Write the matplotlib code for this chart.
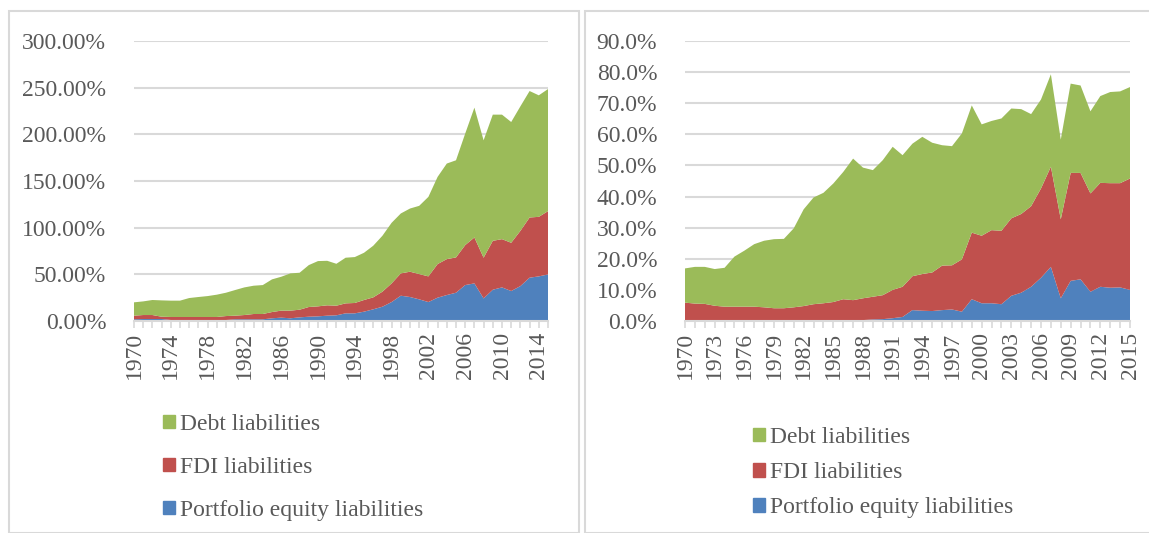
import matplotlib.pyplot as plt
from matplotlib.patches import Patch, Rectangle
from matplotlib.ticker import FuncFormatter, MultipleLocator
import numpy as np

years = list(range(1970, 2016))

# left panel: stacked tops (percent)
left_total = [20.0, 21.0, 22.5, 22.1, 21.8, 21.8, 24.6, 25.7, 26.7, 28.2,
              30.3, 33.2, 36.0, 37.8, 38.5, 44.6, 47.4, 51.0, 51.7, 59.9,
              64.2, 64.5, 61.3, 67.8, 68.5, 73.1, 80.6, 91.3, 105.2, 115.2,
              120.5, 123.4, 133.0, 154.4, 168.7, 172.2, 200.8, 228.6, 193.6, 221.1,
              221.1, 213.2, 230.0, 246.4, 241.8, 248.5]
left_fdi_top = [5.7, 6.4, 6.4, 4.6, 4.3, 4.3, 4.3, 4.3, 4.3, 4.3,
                5.3, 5.7, 6.4, 7.5, 7.5, 9.6, 11.1, 11.1, 12.1, 15.0,
                15.7, 16.8, 16.4, 18.9, 19.3, 22.5, 25.3, 31.4, 40.3, 51.0,
                52.8, 50.3, 47.8, 61.0, 66.3, 68.1, 81.3, 89.5, 67.8, 85.9,
                87.7, 83.8, 96.6, 110.9, 111.6, 117.7]
left_portfolio = [1.8, 2.1, 2.1, 2.1, 1.1, 1.1, 1.1, 1.1, 1.1, 1.1,
                  1.1, 1.8, 1.8, 1.8, 1.8, 2.9, 3.6, 2.9, 3.9, 4.6,
                  5.0, 5.7, 6.1, 8.2, 8.2, 10.0, 12.5, 15.3, 20.3, 27.1,
                  25.7, 23.2, 20.3, 25.0, 27.8, 30.3, 38.5, 40.3, 24.2, 33.5,
                  36.0, 32.1, 37.4, 46.4, 47.8, 49.9]

# right panel
right_total = [16.9, 17.4, 17.4, 16.7, 17.1, 20.7, 22.6, 24.7, 25.8, 26.3,
               26.4, 29.8, 35.9, 39.7, 41.2, 44.2, 47.9, 52.2, 49.3, 48.5,
               51.7, 56.0, 53.3, 57.0, 59.2, 57.3, 56.5, 56.2, 60.3, 69.3,
               63.2, 64.3, 65.1, 68.3, 68.1, 66.5, 71.2, 79.3, 58.3, 76.3,
               75.7, 67.4, 72.3, 73.6, 73.8, 75.2]
right_fdi_top = [5.9, 5.6, 5.5, 4.9, 4.6, 4.6, 4.6, 4.6, 4.4, 4.1,
                 4.1, 4.4, 4.8, 5.4, 5.7, 6.1, 7.0, 6.7, 7.3, 7.8,
                 8.3, 10.0, 11.0, 14.4, 15.1, 15.6, 17.8, 17.9, 19.8, 28.4,
                 27.4, 29.2, 29.0, 33.0, 34.4, 36.9, 42.6, 49.6, 32.7, 47.6,
                 47.6, 41.0, 44.4, 44.3, 44.3, 45.8]
right_portfolio = [0.0, 0.0, 0.0, 0.0, 0.0, 0.0, 0.0, 0.0, 0.0, 0.0,
                   0.0, 0.0, 0.0, 0.0, 0.1, 0.2, 0.3, 0.3, 0.3, 0.5,
                   0.6, 0.9, 1.3, 3.5, 3.3, 3.2, 3.5, 3.7, 3.0, 7.0,
                   5.7, 5.7, 5.4, 8.1, 9.1, 11.0, 13.9, 17.4, 7.3, 12.9,
                   13.4, 9.4, 11.0, 10.7, 10.8, 10.0]

labels = ['Debt liabilities', 'FDI liabilities', 'Portfolio equity liabilities']
colors = {'Portfolio': '#4F81BD', 'FDI': '#C0504D', 'Debt': '#9BBB59'}
txt = '#595959'

plt.rcParams['font.family'] = ['Liberation Serif', 'DejaVu Serif']
plt.rcParams['font.size'] = 17

fig = plt.figure(figsize=(11.49, 5.33), dpi=100)
W, H = 1149, 533

# panel frames
fig.patches.append(Rectangle((9 / W, 0), 570 / W, 1 - 11 / H, transform=fig.transFigure,
                             fill=False, edgecolor='#D9D9D9', lw=1.5))
fig.patches.append(Rectangle((585 / W, 0), 600 / W, 1 - 11 / H, transform=fig.transFigure,
                             fill=False, edgecolor='#D9D9D9', lw=1.5))


def panel(rect, total, fdi_top, port, ymax, ystep, fmt, xstep, leg_pos, leg_space):
    ax = fig.add_axes(rect)
    x = np.array(years)
    p = np.array(port)
    f = np.array(fdi_top) - p
    d = np.array(total) - np.array(fdi_top)
    ax.stackplot(x, p, f, d, colors=[colors['Portfolio'], colors['FDI'], colors['Debt']],
                 zorder=3, lw=0)
    ax.set_xlim(1970, 2015)
    ax.set_ylim(0, ymax)
    ax.yaxis.set_major_locator(MultipleLocator(ystep))
    ax.yaxis.set_major_formatter(FuncFormatter(lambda v, _: fmt.format(v)))
    ax.grid(axis='y', color='#D9D9D9', lw=1.5, zorder=0)
    ax.set_xticks(list(range(1970, 2016, xstep)))
    ax.set_xticks(years, minor=True)
    for s in ['top', 'right', 'left']:
        ax.spines[s].set_visible(False)
    ax.spines['bottom'].set_color('#D9D9D9')
    ax.spines['bottom'].set_linewidth(1.5)
    ax.spines['bottom'].set_zorder(4)
    ax.tick_params(axis='y', length=0, pad=20, colors=txt, labelsize=17)
    ax.tick_params(axis='x', which='both', length=5, color='#D9D9D9', width=1.2,
                   colors=txt, labelsize=17, labelrotation=90, pad=3)
    handles = [Patch(color=colors['Debt']), Patch(color=colors['FDI']),
               Patch(color=colors['Portfolio'])]
    fig.legend(handles, labels, loc='upper left', bbox_to_anchor=leg_pos,
               frameon=False, handlelength=0.5, handleheight=0.5,
               handletextpad=0.2, labelspacing=leg_space, labelcolor=txt,
               fontsize=17, borderaxespad=0, borderpad=0)
    return ax


panel([134 / W, 1 - 321 / H, 414 / W, 280 / H], left_total, left_fdi_top, left_portfolio,
      300, 50, '{:.2f}%', 4, (163 / W, 1 - 414 / H), 0.93)
panel([685 / W, 1 - 321 / H, 445 / W, 280 / H], right_total, right_fdi_top, right_portfolio,
      90, 10, '{:.1f}%', 3, (753 / W, 1 - 427 / H), 0.6)

fig.savefig('out.png', dpi=100)
